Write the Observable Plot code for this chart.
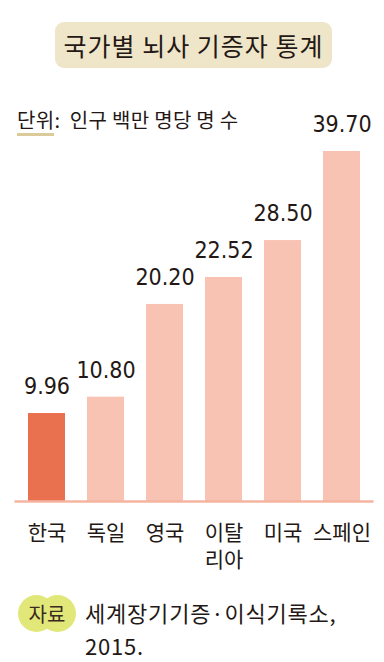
<!DOCTYPE html>
<html><head><meta charset="utf-8">
<script src="https://cdn.jsdelivr.net/npm/d3@7"></script>
<script src="https://cdn.jsdelivr.net/npm/@observablehq/plot@0.6"></script>
<style>
html,body{margin:0;padding:0;background:#fff;}
#wrap{position:relative;width:384px;height:662px;overflow:hidden;font-family:"Noto Sans CJK KR","Noto Sans",sans-serif;color:#231815;}
#title{position:absolute;left:55px;top:22px;width:277px;height:46px;background:#EFE5C8;border-radius:9px;text-align:center;line-height:46px;font-size:25px;letter-spacing:1px;}
#unit{position:absolute;left:17px;top:107px;font-size:20px;line-height:26px;letter-spacing:0.3px;}
#unit .u{position:relative;display:inline-block;}
#unit .u:after{content:"";position:absolute;left:0;right:0;bottom:-3px;height:3px;background:#DCCB9A;}
#chart{position:absolute;left:0;top:100px;}
#badge{position:absolute;left:18px;top:595px;width:58px;height:37px;}
#badge .c{position:absolute;top:0;width:37px;height:37px;border-radius:50%;background:#E2E77A;}
#badge .t{position:absolute;left:0;top:0;width:58px;text-align:center;line-height:37px;font-size:20px;color:#3a2a20;}
#src{position:absolute;left:85px;top:596px;font-size:22px;line-height:33px;letter-spacing:0.8px;}
</style></head>
<body><div id="wrap">
<div id="title">국가별 뇌사 기증자 통계</div>
<div id="unit"><span class="u">단위</span>:&nbsp; 인구 백만 명당 명 수</div>
<div id="chart"></div>
<div id="badge"><div class="c" style="left:0"></div><div class="c" style="left:21px"></div><div class="t">자료</div></div>
<div id="src">세계장기기증·이식기록소,<br>2015.</div>
</div>
<script>
const countries = ["한국", "독일", "영국", "이탈\n리아", "미국", "스페인"];
// bar heights as drawn in the reference (the drawing is not strictly proportional to the printed labels)
const barValues = [9.98, 11.83, 22.35, 25.41, 29.6, 39.7];
// printed value labels
const labels = ["9.96", "10.80", "20.20", "22.52", "28.50", "39.70"];
const highlight = ["한국"];

const data = countries.map((c, i) => ({country: c, value: barValues[i], label: labels[i], hi: highlight.includes(c)}));

const chart = Plot.plot({
  width: 384,
  height: 460,
  marginTop: 51,
  marginBottom: 59,
  marginLeft: 14.5,
  marginRight: 10.5,
  x: {domain: countries, paddingInner: 0.38, paddingOuter: 0.19, axis: null},
  y: {domain: [0, 39.7], axis: null},
  style: {fontFamily: "'Noto Sans CJK KR', sans-serif", background: "transparent", overflow: "visible"},
  marks: [
    Plot.barY(data, {x: "country", y: "value", fill: d => d.hi ? "#EA7150" : "#F8C3B3"}),
    Plot.ruleY([0], {stroke: "#F4B4A0", strokeWidth: 2.5}),
    Plot.text(data, {x: "country", y: "value", text: "label", dy: -27, fontSize: 23, fill: "#231815",
      fontFamily: "'Liberation Sans Narrow', 'DejaVu Sans Condensed', sans-serif", letterSpacing: 1.5}),
    Plot.text(data, {x: "country", y: 0, text: "country", lineAnchor: "top", dy: 19, fontSize: 21, lineHeight: 1.3, fill: "#231815"})
  ]
});
document.getElementById("chart").appendChild(chart);
</script>
</body></html>
